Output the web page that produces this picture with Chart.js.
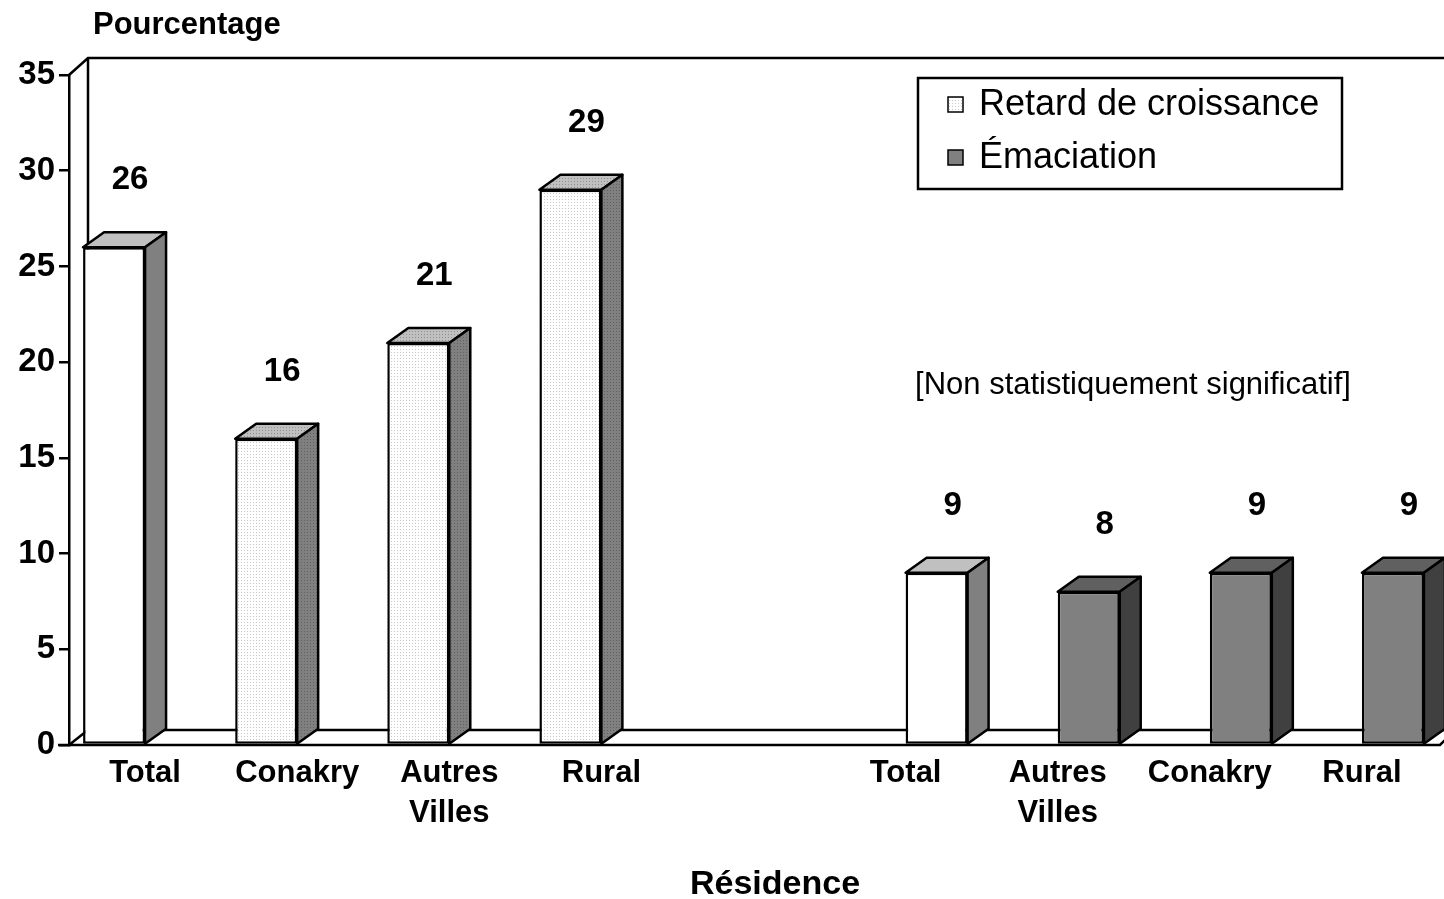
<!DOCTYPE html>
<html lang="fr">
  <head>
    <meta charset="UTF-8" />
    <title>Retard de croissance et émaciation selon la résidence</title>
    <script src="https://cdn.jsdelivr.net/npm/chart.js"></script>
    <style>
      html, body {
        margin: 0;
        padding: 0;
        background: #ffffff;
      }
      #wrap {
        width: 1444px;
        height: 899px;
      }
    </style>
  </head>
  <body>
    <div id="wrap"><canvas id="graph" width="1444" height="899"></canvas></div>

    <script>
      // data
      const categories = ["Total", "Conakry", ["Autres", "Villes"], "Rural", "",
        "Total", ["Autres", "Villes"], "Conakry", "Rural"];
      const retard = [26, 16, 21, 29, null, null, null, null, null];
      const emaciation = [null, null, null, null, null, 9, 8, 9, 9];
      const yTicks = [0, 5, 10, 15, 20, 25, 30, 35];
      const seriesNames = ["Retard de croissance", "Émaciation"];
      const yLabel = "Pourcentage";
      const xLabel = "Résidence";
      const note = "[Non statistiquement significatif]";

      const FONT = "'Liberation Sans', Arial, sans-serif";
      const DX = 21, DY = 15; // depth of the 3D bars
      const LW = 2.5;

      function stipple(base, dot) {
        const c = document.createElement("canvas");
        c.width = 3;
        c.height = 3;
        const g = c.getContext("2d");
        g.fillStyle = base;
        g.fillRect(0, 0, 3, 3);
        g.fillStyle = dot;
        g.fillRect(1, 1, 1, 1);
        return g.createPattern(c, "repeat");
      }

      const dotFront = stipple("#ffffff", "#c8c8c8");
      const dotTop = stipple("#c0c0c0", "#909090");
      const dotSide = stipple("#808080", "#606060");

      // front / top / side colours per point
      const retardFront = ["#ffffff", dotFront, dotFront, dotFront, null, null, null, null, null];
      const retardTop = ["#c0c0c0", dotTop, dotTop, dotTop];
      const retardSide = ["#808080", dotSide, dotSide, dotSide];
      const emaFront = [null, null, null, null, null, "#ffffff", "#808080", "#808080", "#808080"];
      const emaTop = [null, null, null, null, null, "#c0c0c0", "#606060", "#606060", "#606060"];
      const emaSide = [null, null, null, null, null, "#808080", "#404040", "#404040", "#404040"];
      const topColors = [retardTop, emaTop];
      const sideColors = [retardSide, emaSide];

      const box3d = {
        id: "box3d",
        beforeDatasetsDraw(chart) {
          const ctx = chart.ctx;
          const a = chart.chartArea;
          const y = chart.scales.y;
          const y0 = y.getPixelForValue(0);
          const yTop = y.getPixelForValue(35);
          const W = chart.width;
          ctx.save();
          ctx.strokeStyle = "#000";
          ctx.lineWidth = LW;
          // back wall + floor
          ctx.beginPath();
          ctx.moveTo(a.left, yTop);
          ctx.lineTo(a.left + 19, yTop - 17);
          ctx.lineTo(W + 5, yTop - 17);
          ctx.moveTo(a.left + 19, yTop - 17);
          ctx.lineTo(a.left + 19, y0 - 15);
          ctx.lineTo(W + 5, y0 - 15);
          ctx.moveTo(a.left, y0);
          ctx.lineTo(a.left + 19, y0 - 15);
          ctx.moveTo(a.left - 11, y0);
          ctx.lineTo(W - 4, y0);
          ctx.lineTo(W + 11, y0 - 15);
          ctx.stroke();
          ctx.restore();
        },
        afterDatasetsDraw(chart) {
          const ctx = chart.ctx;
          ctx.save();
          ctx.strokeStyle = "#000";
          ctx.lineWidth = LW;
          ctx.lineJoin = "round";
          chart.data.datasets.forEach((ds, i) => {
            chart.getDatasetMeta(i).data.forEach((el, j) => {
              if (ds.data[j] == null) return;
              const l = el.x - el.width / 2, r = el.x + el.width / 2;
              const t = el.y, b = el.base;
              // top face
              ctx.beginPath();
              ctx.moveTo(l, t);
              ctx.lineTo(l + DX, t - DY);
              ctx.lineTo(r + DX, t - DY);
              ctx.lineTo(r, t);
              ctx.closePath();
              ctx.fillStyle = topColors[i][j];
              ctx.fill();
              ctx.stroke();
              // side face
              ctx.beginPath();
              ctx.moveTo(r, t);
              ctx.lineTo(r + DX, t - DY);
              ctx.lineTo(r + DX, b - DY);
              ctx.lineTo(r, b);
              ctx.closePath();
              ctx.fillStyle = sideColors[i][j];
              ctx.fill();
              ctx.stroke();
              // value label
              ctx.fillStyle = "#000";
              ctx.font = "bold 33px " + FONT;
              ctx.textAlign = "center";
              ctx.textBaseline = "middle";
              ctx.fillText(String(ds.data[j]), el.x + 16, t - DY - 52);
            });
          });
          ctx.restore();
        },
        afterDraw(chart) {
          const ctx = chart.ctx;
          ctx.save();
          ctx.fillStyle = "#000";
          ctx.textBaseline = "middle";
          ctx.textAlign = "left";
          ctx.font = "bold 31px " + FONT;
          ctx.fillText(yLabel, 93, 25);
          ctx.textAlign = "center";
          ctx.font = "bold 34px " + FONT;
          ctx.fillText(xLabel, 775, 885);
          ctx.font = "31px " + FONT;
          ctx.fillText(note, 1133, 385);

          // legend box
          ctx.fillStyle = "#fff";
          ctx.fillRect(918, 78, 424, 111);
          ctx.strokeStyle = "#000";
          ctx.lineWidth = LW;
          ctx.strokeRect(918, 78, 424, 111);
          const swatch = [dotFront, "#808080"];
          const rows = [105, 158];
          seriesNames.forEach((name, k) => {
            ctx.fillStyle = swatch[k];
            ctx.fillRect(948, rows[k] - 8, 15, 15);
            ctx.lineWidth = 1.5;
            ctx.strokeRect(948, rows[k] - 8, 15, 15);
            ctx.fillStyle = "#000";
            ctx.textAlign = "left";
            ctx.font = "36px " + FONT;
            ctx.fillText(name, 979, rows[k]);
          });
          ctx.restore();
        }
      };

      new Chart(document.querySelector("#graph").getContext("2d"), {
        type: "bar",
        data: {
          labels: categories,
          datasets: [
            {
              label: seriesNames[0],
              data: retard,
              backgroundColor: retardFront,
              borderColor: "#000",
              borderWidth: LW,
              borderSkipped: false,
              categoryPercentage: 0.815,
              barPercentage: 1,
            },
            {
              label: seriesNames[1],
              data: emaciation,
              backgroundColor: emaFront,
              borderColor: "#000",
              borderWidth: LW,
              borderSkipped: false,
              categoryPercentage: 0.815,
              barPercentage: 1,
            },
          ],
        },
        options: {
          responsive: false,
          animation: false,
          layout: { padding: { top: 75, right: 6, bottom: 0, left: 0 } },
          plugins: {
            legend: { display: false },
            tooltip: { enabled: false },
          },
          scales: {
            x: {
              afterFit: (s) => { s.height = 154; },
              grid: { display: false, drawTicks: false },
              border: { display: false },
              ticks: {
                color: "#000",
                padding: 8,
                maxRotation: 0,
                autoSkip: false,
                font: { family: FONT, size: 31, weight: "bold", lineHeight: 1.3 },
              },
            },
            y: {
              min: 0,
              max: 35,
              afterFit: (s) => { s.width = 69; },
              afterBuildTicks: (s) => { s.ticks = yTicks.map((v) => ({ value: v })); },
              grid: {
                drawOnChartArea: false,
                drawTicks: true,
                tickLength: 10,
                color: "#000",
                lineWidth: LW,
              },
              border: { display: true, color: "#000", width: LW },
              ticks: {
                color: "#000",
                padding: 4,
                font: { family: FONT, size: 33, weight: "bold" },
              },
            },
          },
        },
        plugins: [box3d],
      });
    </script>
  </body>
</html>
